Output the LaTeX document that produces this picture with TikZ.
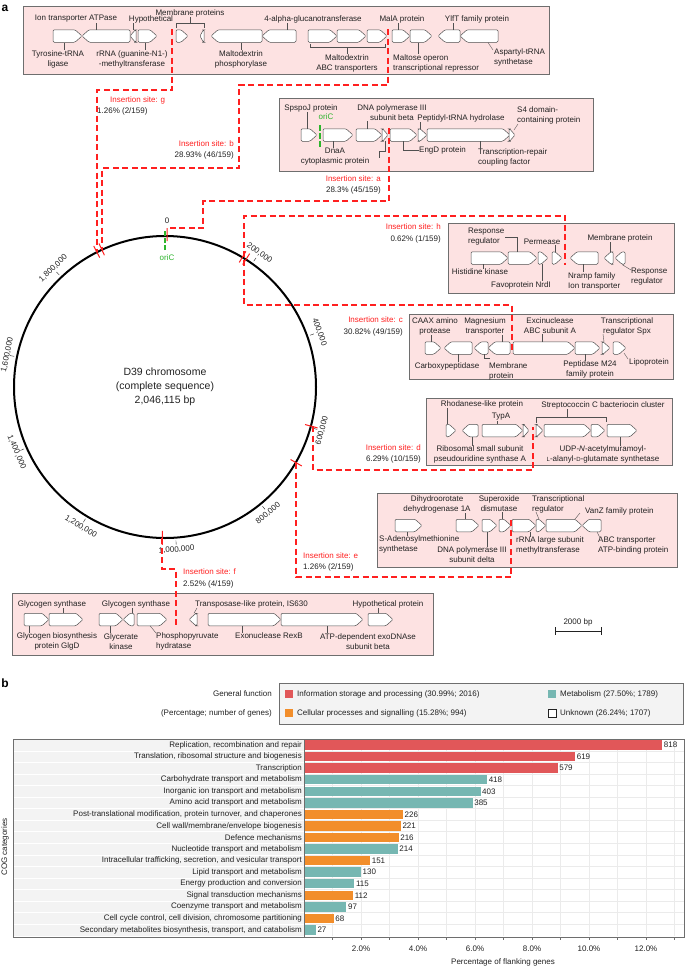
\documentclass[tikz,border=0pt]{standalone}
\usepackage{fontspec}
\setmainfont{Liberation Sans}
\usetikzlibrary{positioning}

\definecolor{locusfill}{HTML}{FDE2E2}
\definecolor{locusline}{HTML}{6E6E6E}
\definecolor{geneline}{HTML}{505050}
\definecolor{txt}{HTML}{222222}
\definecolor{siteline}{HTML}{FF2020}
\definecolor{origin}{HTML}{2DB52D}
\definecolor{infoc}{HTML}{E15759}
\definecolor{metac}{HTML}{76B7B2}
\definecolor{cellc}{HTML}{F28E2B}
\definecolor{labpanel}{HTML}{F3F3F3}
\definecolor{gridc}{HTML}{EBEBEB}

% gene arrows: x1, x2, centre y
\newcommand{\geneR}[3]{%
  \pgfmathsetmacro{\gtip}{min(7,#2-#1-0.6)}%
  \draw[gene] (#2,#3) -- (#2-\gtip,#3-6.25) -- (#1,#3-6.25) -- (#1,#3+6.25) -- (#2-\gtip,#3+6.25) -- cycle;}
\newcommand{\geneL}[3]{%
  \pgfmathsetmacro{\gtip}{min(7,#2-#1-0.6)}%
  \draw[gene] (#1,#3) -- (#1+\gtip,#3-6.25) -- (#2,#3-6.25) -- (#2,#3+6.25) -- (#1+\gtip,#3+6.25) -- cycle;}
% vertical leader: x, y on gene, label anchor
\newcommand{\vlead}[3]{\draw[lead] (#1,#2) -- (#1,0 |- #3);}
% one COG row: index, label, count, colour
\newcommand{\cogrow}[4]{%
  \pgfmathsetmacro{\rowy}{745+(#1-1)*11.56}%
  \node[cogl,anchor=east] (cat#1) at (302,\rowy) {#2};
  \fill[#4] (304,\rowy-4.7) rectangle ({304+#3*0.438},\rowy+4.7);
  \node[cogl,anchor=west] (num#1) at ({305.5+#3*0.438},\rowy) {#3};}

\begin{document}
\begin{tikzpicture}[x=1pt,y=-1pt,
    locus/.style={draw=locusline,fill=locusfill,line width=0.6pt},
    gene/.style={draw=geneline,fill=white,line width=0.5pt,rounded corners=1.2pt},
    lbl/.style={font=\fontsize{8}{10}\selectfont,inner sep=0pt,align=center,text=txt},
    lbll/.style={lbl,align=left,anchor=west},
    lead/.style={draw=geneline,line width=0.4pt},
    site/.style={draw=siteline,line width=1.1pt,dash pattern=on 6pt off 3.5pt},
    sitemark/.style={draw=siteline,line width=1pt},
    sitetxt/.style={font=\fontsize{8}{10}\selectfont,inner sep=0pt,text=siteline},
    sitenum/.style={font=\fontsize{8}{10}\selectfont,inner sep=0pt,text=txt},
    ticklbl/.style={font=\fontsize{8}{10}\selectfont,inner sep=0pt,text=txt},
    cogl/.style={font=\fontsize{8}{10}\selectfont,inner sep=0pt,text=txt},
    panel/.style={font=\bfseries\fontsize{12}{12}\selectfont,inner sep=0pt}]
  \useasboundingbox[fill=white] (0,0) rectangle (685,967);

  \node[panel] (pa) at (5,8) {a};
  \node[panel] (pb) at (5,683) {b};

  % ---------- locus g / b (maltodextrin region)
  \draw[locus] (23,6) rectangle (549,74);
  \geneR{53}{82}{36}
  \geneL{82}{130}{36}
  \geneL{130}{136}{36}
  \geneR{138}{157}{36}
  \geneR{176}{188}{36}
  \geneL{200}{204}{36}
  \geneL{211}{262}{36}
  \geneL{262}{296}{36}
  \geneR{308}{337}{36}
  \geneR{337}{366}{36}
  \geneR{367}{387}{36}
  \geneR{392}{410}{36}
  \geneR{410}{432}{36}
  \geneL{438}{460}{36}
  \geneL{460}{498}{36}
  \node[lbl] (tyr) at (58,59) {Tyrosine-tRNA\\ligase};
  \node[lbl] (atp) at (76,19) {Ion transporter ATPase};
  \node[lbl] (rrn) at (132,59) {rRNA (guanine-N1-)\\-methyltransferase};
  \node[lbl] (hyp) at (151,19) {Hypothetical};
  \node[lbl] (memp) at (190,13) {Membrane proteins};
  \node[lbl] (mdp) at (241,59) {Maltodextrin\\phosphorylase};
  \node[lbl] (glu) at (313,19) {4-alpha-glucanotransferase};
  \node[lbl] (mabc) at (347,63) {Maltodextrin\\ABC transporters};
  \node[lbl] (mala) at (402,19) {MalA protein};
  \node[lbll] (mor) at (393,63) {Maltose operon\\transcriptional repressor};
  \node[lbl] (ylf) at (477,19) {YlfT family protein};
  \node[lbll] (asp) at (494,57) {Aspartyl-tRNA\\synthetase};
  \vlead{64}{42.5}{tyr.north}
  \vlead{96}{29.5}{atp.south}
  \vlead{145}{42.5}{rrn.north}
  \vlead{133}{29.5}{hyp.south}
  \draw[lead] (176,28) -- (176,23) -- (204,23) -- (204,28);
  \vlead{190}{23}{memp.south}
  \vlead{241}{42.5}{mdp.north}
  \vlead{287}{29.5}{glu.south}
  \draw[lead] (310,44) -- (310,47) -- (385,47) -- (385,44);
  \vlead{347}{47}{mabc.north}
  \vlead{398}{29.5}{mala.south}
  \vlead{418}{42.5}{mor.north}
  \vlead{453}{29.5}{ylf.south}
  \draw[lead] (488,42.5) -- (493,50);

  % ---------- locus a (origin region)
  \draw[locus] (279,98) rectangle (593,171);
  \geneR{301}{317}{135}
  \geneR{323}{353}{135}
  \geneR{356}{382}{135}
  \geneR{382}{388}{135}
  \geneR{390}{417}{135}
  \geneR{418}{427}{135}
  \geneR{427}{510}{135}
  \geneR{509}{515}{135}
  \draw[origin,line width=1.6pt,dash pattern=on 6pt off 2pt] (320,125) -- (320,147);
  \node[lbl,text=origin] (oric1) at (326,117) {oriC};
  \node[lbl] (spj) at (311,108) {SpspoJ protein};
  \node[lbl] (dnaa) at (335,156.5) {DnaA\\cytoplasmic protein};
  \node[lbl] (polb) at (392,113) {DNA polymerase III\\subunit beta};
  \node[lbll] (engd) at (419,150) {EngD protein};
  \node[lbl] (pth) at (461,118) {Peptidyl-tRNA hydrolase};
  \node[lbll] (trcf) at (478,157.5) {Transcription-repair\\coupling factor};
  \node[lbll] (s4) at (517,115) {S4 domain-\\containing protein};
  \vlead{307}{128.75}{spj.south}
  \vlead{333}{141.25}{dnaa.north}
  \vlead{367}{128.75}{polb.south}
  \draw[lead] (385,141.25) -- (385,151) -- (379,151) -- (379,158);
  \draw[lead] (403,141.25) |- (engd.west);
  \vlead{420}{128.75}{pth.south}
  \draw[lead] (480,141.25) -- (480,150);
  \draw[lead] (514,130) -- (518,124);

  % ---------- locus h
  \draw[locus] (448,223) rectangle (674,293);
  \geneR{471}{508}{258}
  \geneR{508}{537}{258}
  \geneR{538}{548}{258}
  \geneR{552}{562}{258}
  \geneL{570}{598}{258}
  \geneL{604}{613}{258}
  \geneL{615}{625}{258}
  \node[lbl] (hk) at (480,272) {Histidine kinase};
  \node[lbll] (rr1) at (468,237) {Response\\regulator};
  \node[lbl] (nrdi) at (521,285) {Favoprotein NrdI};
  \node[lbl] (perm) at (542,242) {Permease};
  \node[lbll] (nramp) at (568,281) {Nramp family\\Ion transporter};
  \node[lbl] (memh) at (620,238) {Membrane protein};
  \node[lbll] (rr2) at (631,277) {Response\\regulator};
  \vlead{483}{264.25}{hk.north}
  \draw[lead] ([xshift=1pt]rr1.east) -| (517,251.75);
  \vlead{542}{264.25}{nrdi.north}
  \vlead{555}{251.75}{perm.south}
  \vlead{583}{264.25}{nramp.north}
  \vlead{610}{251.75}{memh.south}
  \draw[lead] (622,264.5) -- (631,270);

  % ---------- locus c
  \draw[locus] (409,314) rectangle (673,379);
  \geneR{425}{441}{348}
  \geneL{444}{472}{348}
  \geneL{474}{488}{348}
  \geneL{488}{510}{348}
  \geneR{513}{575}{348}
  \geneR{575}{600}{348}
  \geneR{602}{610}{348}
  \geneR{613}{626}{348}
  \node[lbl] (caax) at (435,326) {CAAX amino\\protease};
  \node[lbl] (carb) at (447,366) {Carboxypeptidase};
  \node[lbll] (memc) at (489,371.5) {Membrane\\protein};
  \node[lbl] (mgt) at (485,326) {Magnesium\\transporter};
  \node[lbl] (uvra) at (550,326) {Excinuclease\\ABC subunit A};
  \node[lbl] (m24) at (590,369.5) {Peptidase M24\\family protein};
  \node[lbl] (spx) at (627,326) {Transcriptional\\regulator Spx};
  \node[lbll] (lipo) at (629,362) {Lipoprotein};
  \vlead{431}{341.75}{caax.south}
  \vlead{458}{354.25}{carb.north}
  \draw[lead] (484,354.25) -- (484,358) -- (490,358);
  \vlead{502}{341.75}{mgt.south}
  \vlead{542}{341.75}{uvra.south}
  \vlead{585}{354.25}{m24.north}
  \draw[lead] (604,341.75) -- (603,334);
  \draw[lead] (624,353) -- (628,359);

  % ---------- locus d
  \draw[locus] (426,398) rectangle (672,465);
  \geneR{446}{456}{430.5}
  \geneL{462}{478}{430.5}
  \geneR{482}{523}{430.5}
  \geneR{523}{529}{430.5}
  \geneR{536}{543}{430.5}
  \geneR{544}{591}{430.5}
  \geneR{591}{605}{430.5}
  \geneR{607}{637}{430.5}
  \node[lbl] (rhod) at (482,404) {Rhodanese-like protein};
  \node[lbl] (rsua) at (480,454.5) {Ribosomal small subunit\\pseudouridine synthase A};
  \node[lbl] (typa) at (501,417) {TypA};
  \node[lbl] (scc) at (603,405) {Streptococcin C bacteriocin cluster};
  \node[lbl] (murd) at (603,454.5) {UDP-\textit{N}-acetylmuramoyl-\\{\fontsize{6}{6}\selectfont L}-alanyl-{\fontsize{6}{6}\selectfont D}-glutamate synthetase};
  \vlead{447}{424.25}{rhod.south}
  \vlead{472}{436.75}{rsua.north}
  \vlead{497}{424.25}{typa.south}
  \draw[lead] (536,423) -- (536,417) -- (606,417) -- (606,422);
  \vlead{567}{417}{scc.south}
  \vlead{620}{436.75}{murd.north}

  % ---------- locus e
  \draw[locus] (377,493) rectangle (677,567);
  \geneR{395}{422}{525.5}
  \geneR{456}{479}{525.5}
  \geneR{482}{497}{525.5}
  \geneR{499}{511}{525.5}
  \geneR{512}{536}{525.5}
  \geneR{536}{546}{525.5}
  \geneR{546}{582}{525.5}
  \geneL{582}{601}{525.5}
  \node[lbll] (sam) at (379,544.5) {S-Adenosylmethionine\\synthetase};
  \node[lbl] (dhod) at (437,504) {Dihydroorotate\\dehydrogenase 1A};
  \node[lbl] (polD) at (472,555) {DNA polymerase III\\subunit delta};
  \node[lbl] (sod) at (499,504) {Superoxide\\dismutase};
  \node[lbll] (rlm) at (516,545.5) {rRNA large subunit\\methyltransferase};
  \node[lbll] (treg) at (532,504) {Transcriptional\\regulator};
  \node[lbll] (vanz) at (585,511) {VanZ family protein};
  \node[lbll] (abct) at (598,545.5) {ABC transporter\\ATP-binding protein};
  \vlead{407}{531.75}{sam.north}
  \vlead{465}{519.25}{dhod.south}
  \vlead{487}{531.75}{polD.north}
  \vlead{502}{519.25}{sod.south}
  \vlead{530}{531.75}{rlm.north}
  \draw[lead] (539,519.25) -- (536,512);
  \draw[lead] (575,519) -- (580,513);
  \draw[lead] (597,531.75) -- (600,538);

  % ---------- locus f
  \draw[locus] (12,593) rectangle (433,655);
  \geneR{24}{49}{619.5}
  \geneR{49}{83}{619.5}
  \geneR{99}{123}{619.5}
  \geneL{123}{134}{619.5}
  \geneR{137}{167}{619.5}
  \geneL{189}{197}{619.5}
  \geneR{208}{281}{619.5}
  \geneR{281}{363}{619.5}
  \geneR{368}{393}{619.5}
  \node[lbl] (glgA1) at (52,604) {Glycogen synthase};
  \node[lbl] (glgD) at (57,641.5) {Glycogen biosynthesis\\protein GlgD};
  \node[lbl] (glxk) at (121,641.5) {Glycerate\\kinase};
  \node[lbl] (glgA2) at (136,604) {Glycogen synthase};
  \node[lbll] (eno) at (156,641.5) {Phosphopyruvate\\hydratase};
  \node[lbll] (tnp) at (195,604) {Transposase-like protein, IS630};
  \node[lbl] (rexb) at (269,636) {Exonuclease RexB};
  \node[lbl] (addb) at (368,641.5) {ATP-dependent exoDNAse\\subunit beta};
  \node[lbl] (hypf) at (388,604) {Hypothetical protein};
  \vlead{63}{613.25}{glgA1.south}
  \vlead{29}{625.75}{glgD.north}
  \vlead{110}{625.75}{glxk.north}
  \vlead{132}{613.25}{glgA2.south}
  \draw[lead] (150,625.75) -- (156,633);
  \draw[lead] (194,613.25) -- (197,608);
  \vlead{242}{625.75}{rexb.north}
  \vlead{327}{625.75}{addb.north}
  \vlead{378}{613.25}{hypf.south}

  % scale bar
  \draw[line width=0.8pt,txt] (555,631) -- (601,631) (555,627) -- (555,635) (601,627) -- (601,635);
  \node[lbl] (sbar) at (578,622) {2000 bp};

  % ---------- chromosome
  \begin{scope}[shift={(165,387)}]
    \draw[line width=2pt] (0,0) circle[radius=151];
    \node[font=\fontsize{10.5}{14}\selectfont,align=center,text=txt] (chr) at (0,0) {D39 chromosome\\(complete sequence)\\2,046,115 bp};
    \draw[origin,line width=1.6pt,dash pattern=on 5pt off 2pt] (-90:137) -- (-90:157);
    \node[lbl,text=origin] (oric2) at (2,-129) {oriC};
    \node[ticklbl] (t0) at (2,-166) {0};
    \node[ticklbl,rotate=-35.19] (t1) at (-54.81:164) {200,000};
    \node[ticklbl,rotate=-70.37] (t2) at (-19.63:164) {400,000};
    \node[ticklbl,rotate=74.44] (t3) at (15.56:163) {600,000};
    \node[ticklbl,rotate=39.26] (t4) at (50.74:163) {800,000};
    \node[ticklbl,rotate=4.07] (t5) at (85.93:163) {1,000,000};
    \node[ticklbl,rotate=-31.12] (t6) at (121.12:163) {1,200,000};
    \node[ticklbl,rotate=-66.30] (t7) at (156.30:162) {1,400,000};
    \node[ticklbl,rotate=78.51] (t8) at (191.49:161) {1,600,000};
    \node[ticklbl,rotate=43.33] (t9) at (226.67:163) {1,800,000};
    \draw[txt,line width=0.4pt] (-54.81:154) -- (-54.81:158) (-19.63:154) -- (-19.63:158)
      (15.56:154) -- (15.56:158) (50.74:154) -- (50.74:158) (85.93:154) -- (85.93:158)
      (121.12:154) -- (121.12:158) (156.30:154) -- (156.30:158) (191.49:154) -- (191.49:158)
      (226.67:154) -- (226.67:158);
    % insertion marks on the circle
    \draw[sitemark] (-89.2:146) -- (-89.2:159);
    \draw[sitemark] (-116.8:145) -- (-116.8:158);
    \draw[sitemark] (-114.7:145) -- (-114.7:158);
    \draw[sitemark] (-59.2:145) -- (-59.2:158);
    \draw[sitemark] (-57.6:145) -- (-57.6:158);
    \draw[sitemark] (15:145) -- (15:158);
    \draw[sitemark] (30:145) -- (30:158);
    \draw[sitemark] (91:144) -- (91:158);
  \end{scope}

  % insertion sites (where the links leave the circle)
  \coordinate (sa) at (167,228);
  \coordinate (sg) at (97,252);
  \coordinate (sb) at (102,250);
  \coordinate (sh) at (244,257);
  \coordinate (sc) at (244,260);
  \coordinate (sd) at (313,426);
  \coordinate (se) at (296,463);
  \coordinate (sf) at (162,538);

  % ---------- dashed links from the sites to the loci
  \draw[site] (389,128) |- (203,201) |- (sa);
  \draw[site] (172,29) |- (97,90) -- (sg);
  \draw[site] (388,29) |- (239,85) |- (102,168) -- (sb);
  \draw[site] (sh) -- (244,216) -| (565,265);
  \draw[site] (sc) -- (244,305) -| (512,353);
  \draw[site] (sd) -- (313,470) -| (533,427);
  \draw[site] (se) -- (296,577) -| (511,520);
  \draw[site] (sf) -- (162,569) -| (176,625);

  \node[sitetxt,anchor=west] (ig) at (110,100) {Insertion site: g};
  \node[sitenum,anchor=west] (ng) at (97,111) {1.26\% (2/159)};
  \node[sitetxt,anchor=east] (ib) at (234,144) {Insertion site: b};
  \node[sitenum,anchor=east] (nb) at (234,155) {28.93\% (46/159)};
  \node[sitetxt,anchor=east] (ia) at (381,179) {Insertion site: a};
  \node[sitenum,anchor=east] (na) at (381,190) {28.3\% (45/159)};
  \node[sitetxt,anchor=east] (ih) at (441,227) {Insertion site: h};
  \node[sitenum,anchor=east] (nh) at (441,239) {0.62\% (1/159)};
  \node[sitetxt,anchor=east] (ic) at (403,320) {Insertion site: c};
  \node[sitenum,anchor=east] (nc) at (403,332) {30.82\% (49/159)};
  \node[sitetxt,anchor=east] (id) at (421,448) {Insertion site: d};
  \node[sitenum,anchor=east] (nd) at (421,459) {6.29\% (10/159)};
  \node[sitetxt,anchor=west] (ie) at (303,556) {Insertion site: e};
  \node[sitenum,anchor=west] (ne) at (303,567) {1.26\% (2/159)};
  \node[sitetxt,anchor=west] (if) at (183,572) {Insertion site: f};
  \node[sitenum,anchor=west] (nf) at (183,584) {2.52\% (4/159)};

  % ---------- panel b legend
  \draw[fill=labpanel,draw=locusline,line width=0.6pt] (279,683) rectangle (683,724);
  \node[cogl,anchor=east] (gf1) at (272,694) {General function};
  \node[cogl,anchor=east] (gf2) at (272,713) {(Percentage; number of genes)};
  \fill[infoc] (285,690) rectangle (293,698);
  \node[cogl,anchor=west] (lg1) at (297,694) {Information storage and processing (30.99\%; 2016)};
  \fill[metac] (548,690) rectangle (556,698);
  \node[cogl,anchor=west] (lg2) at (560,694) {Metabolism (27.50\%; 1789)};
  \fill[cellc] (285,709) rectangle (293,717);
  \node[cogl,anchor=west] (lg3) at (297,713) {Cellular processes and signalling (15.28\%; 994)};
  \draw[fill=white,draw=txt,line width=0.5pt] (548,709) rectangle (556,717);
  \node[cogl,anchor=west] (lg4) at (560,713) {Unknown (26.24\%; 1707)};

  % ---------- panel b bar chart
  \fill[labpanel] (13,739) rectangle (304,936);
  \draw[white,line width=0.5pt] (13,750.76) -- (304,750.76) (13,762.32) -- (304,762.32)
    (13,773.88) -- (304,773.88) (13,785.44) -- (304,785.44) (13,797.0) -- (304,797.0)
    (13,808.56) -- (304,808.56) (13,820.12) -- (304,820.12) (13,831.68) -- (304,831.68)
    (13,843.24) -- (304,843.24) (13,854.8) -- (304,854.8) (13,866.36) -- (304,866.36)
    (13,877.92) -- (304,877.92) (13,889.48) -- (304,889.48) (13,901.04) -- (304,901.04)
    (13,912.6) -- (304,912.6) (13,924.16) -- (304,924.16);
  \draw[gridc,line width=0.5pt] (304,750.76) -- (684,750.76) (304,762.32) -- (684,762.32)
    (304,773.88) -- (684,773.88) (304,785.44) -- (684,785.44) (304,797.0) -- (684,797.0)
    (304,808.56) -- (684,808.56) (304,820.12) -- (684,820.12) (304,831.68) -- (684,831.68)
    (304,843.24) -- (684,843.24) (304,854.8) -- (684,854.8) (304,866.36) -- (684,866.36)
    (304,877.92) -- (684,877.92) (304,889.48) -- (684,889.48) (304,901.04) -- (684,901.04)
    (304,912.6) -- (684,912.6) (304,924.16) -- (684,924.16);
  \draw[gridc,line width=0.5pt] (332.5,739) -- (332.5,936) (361,739) -- (361,936)
    (389.5,739) -- (389.5,936) (418,739) -- (418,936) (446.5,739) -- (446.5,936)
    (475,739) -- (475,936) (503.5,739) -- (503.5,936) (532,739) -- (532,936)
    (560.5,739) -- (560.5,936) (589,739) -- (589,936) (617.5,739) -- (617.5,936)
    (646,739) -- (646,936) (674.5,739) -- (674.5,936);
  \cogrow{1}{Replication, recombination and repair}{818}{infoc}
  \cogrow{2}{Translation, ribosomal structure and biogenesis}{619}{infoc}
  \cogrow{3}{Transcription}{579}{infoc}
  \cogrow{4}{Carbohydrate transport and metabolism}{418}{metac}
  \cogrow{5}{Inorganic ion transport and metabolism}{403}{metac}
  \cogrow{6}{Amino acid transport and metabolism}{385}{metac}
  \cogrow{7}{Post-translational modification, protein turnover, and chaperones}{226}{cellc}
  \cogrow{8}{Cell wall/membrane/envelope biogenesis}{221}{cellc}
  \cogrow{9}{Defence mechanisms}{216}{cellc}
  \cogrow{10}{Nucleotide transport and metabolism}{214}{metac}
  \cogrow{11}{Intracellular trafficking, secretion, and vesicular transport}{151}{cellc}
  \cogrow{12}{Lipid transport and metabolism}{130}{metac}
  \cogrow{13}{Energy production and conversion}{115}{metac}
  \cogrow{14}{Signal transduction mechanisms}{112}{cellc}
  \cogrow{15}{Coenzyme transport and metabolism}{97}{metac}
  \cogrow{16}{Cell cycle control, cell division, chromosome partitioning}{68}{cellc}
  \cogrow{17}{Secondary metabolites biosynthesis, transport, and catabolism}{27}{metac}
  \draw[locusline,line width=0.7pt] (304,739) -- (304,937);
  \draw[locusline,line width=0.7pt] (13,739) rectangle (684,937);
  \draw[locusline,line width=0.5pt] (332.5,937) -- (332.5,940) (361,937) -- (361,940)
    (389.5,937) -- (389.5,940) (418,937) -- (418,940) (446.5,937) -- (446.5,940)
    (475,937) -- (475,940) (503.5,937) -- (503.5,940) (532,937) -- (532,940)
    (560.5,937) -- (560.5,940) (589,937) -- (589,940) (617.5,937) -- (617.5,940)
    (646,937) -- (646,940) (674.5,937) -- (674.5,940);
  \node[cogl] (x2) at (361,949) {2.0\%};
  \node[cogl] (x4) at (418,949) {4.0\%};
  \node[cogl] (x6) at (475,949) {6.0\%};
  \node[cogl] (x8) at (532,949) {8.0\%};
  \node[cogl] (x10) at (589,949) {10.0\%};
  \node[cogl] (x12) at (646,949) {12.0\%};
  \node[cogl] (xttl) at (503,962) {Percentage of flanking genes};
  \node[cogl,rotate=90] (yttl) at (5,847) {COG categories};
\end{tikzpicture}
\end{document}
